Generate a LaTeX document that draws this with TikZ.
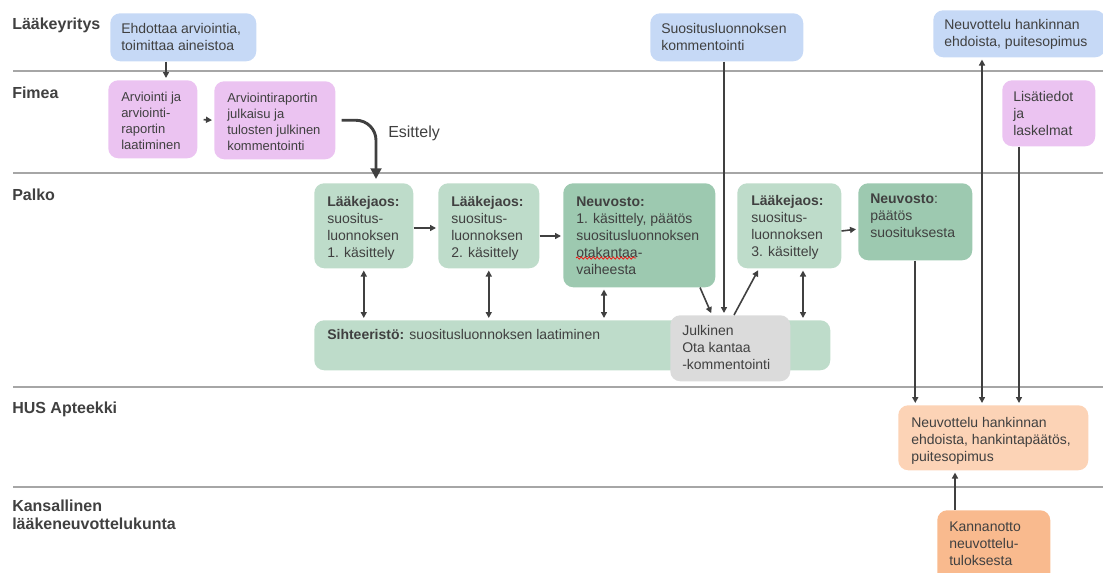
\documentclass[tikz,border=0pt]{standalone}
\usepackage{fontspec}
\setmainfont{Liberation Sans}
\usetikzlibrary{arrows.meta,decorations.pathmorphing}
\definecolor{ink}{HTML}{404040}
\definecolor{laneline}{HTML}{A6A6A6}
\definecolor{sininen}{HTML}{C6D9F6}
\definecolor{pinkki}{HTML}{EBC3F1}
\definecolor{vihrea}{HTML}{BEDCCA}
\definecolor{tummavihrea}{HTML}{9DC9B0}
\definecolor{harmaa}{HTML}{DBDBDB}
\definecolor{persikka}{HTML}{FCD3B6}
\definecolor{oranssi}{HTML}{F9BA8E}
\begin{document}
\begin{tikzpicture}[x=0.75pt,y=-0.75pt,
	every node/.style={text=ink},
	box/.style={rounded corners=7.5pt,inner sep=0pt,anchor=north west},
	lbl/.style={anchor=north west,align=left,inner sep=0pt,font=\fontsize{10.5}{12.75}\selectfont},
	small/.style={lbl,font=\fontsize{9.75}{12}\selectfont},
	lane/.style={anchor=north west,align=left,inner sep=0pt,font=\fontsize{12}{13.5}\selectfont\bfseries},
	arr/.style={draw=ink,line width=1.2pt,shorten >=1.5pt,-{Triangle[length=4.5pt,width=4.5pt]}},
	darr/.style={arr,shorten <=1.5pt,{Triangle[length=4.5pt,width=4.5pt]}-{Triangle[length=4.5pt,width=4.5pt]}},
	bigarr/.style={draw=ink,line width=2.2pt,-{Triangle[length=8pt,width=8pt]}}]
	\useasboundingbox (0,0) rectangle (1103,572);
	% kaistat
	\foreach \y in {71,173,387,487} \draw[laneline,line width=0.8pt] (13,\y)--(1103,\y);
	\node[lane] (l1) at (12,18) {Lääkeyritys};
	\node[lane] (l2) at (12,87) {Fimea};
	\node[lane] (l3) at (12,189) {Palko};
	\node[lane] (l4) at (12,402) {HUS Apteekki};
	\node[lane] (l5) at (12,500) {Kansallinen\\lääkeneuvottelukunta};
	% laatikot
	\node[box,fill=sininen,minimum width=109.5pt,minimum height=36pt] (ehdotus) at (110,13) {};
	\node[lbl] (ehdotus-t) at ([shift={(11,10)}]ehdotus.north west) {Ehdottaa arviointia,\\toimittaa aineistoa};
	\node[box,fill=pinkki,minimum width=66.75pt,minimum height=58.5pt] (arviointi) at (108,80) {};
	\node[small] (arviointi-t) at ([shift={(13,12)}]arviointi.north west) {Arviointi ja\\arviointi-\\raportin\\laatiminen};
	\node[box,fill=pinkki,minimum width=90.75pt,minimum height=58.5pt] (julkaisu) at (214,81) {};
	\node[small] (julkaisu-t) at ([shift={(13,12)}]julkaisu.north west) {Arviointiraportin\\julkaisu ja\\tulosten julkinen\\kommentointi};
	\node[box,fill=sininen,minimum width=114.75pt,minimum height=36pt] (kommentointi) at (650,13) {};
	\node[lbl] (kommentointi-t) at ([shift={(11,10)}]kommentointi.north west) {Suositusluonnoksen\\kommentointi};
	\node[box,fill=sininen,minimum width=129pt,minimum height=35.25pt] (neuvottelu) at (933,10) {};
	\node[lbl] (neuvottelu-t) at ([shift={(11,9)}]neuvottelu.north west) {Neuvottelu hankinnan\\ehdoista, puitesopimus};
	\node[box,fill=pinkki,minimum width=69.75pt,minimum height=49.5pt] (lisatiedot) at (1002,80) {};
	\node[lbl] (lisatiedot-t) at ([shift={(11,11)}]lisatiedot.north west) {Lisätiedot\\ja\\laskelmat};
	\node[box,fill=vihrea,minimum width=74.25pt,minimum height=63.75pt] (jaos1) at (314,183) {};
	\node[lbl] (jaos1-t) at ([shift={(13,13)}]jaos1.north west) {\textbf{Lääkejaos:}\\suositus-\\luonnoksen\\1. käsittely};
	\node[box,fill=vihrea,minimum width=75.75pt,minimum height=63.75pt] (jaos2) at (438,183) {};
	\node[lbl] (jaos2-t) at ([shift={(13,13)}]jaos2.north west) {\textbf{Lääkejaos:}\\suositus-\\luonnoksen\\2. käsittely};
	\node[box,fill=tummavihrea,minimum width=114pt,minimum height=78pt] (neuvosto1) at (563,183) {};
	\node[lbl] (neuvosto1-t) at ([shift={(13,14)}]neuvosto1.north west) {\textbf{Neuvosto:}\\1. käsittely, päätös\\suositusluonnoksen\\otakantaa-\\vaiheesta};
	\draw[red,line width=0.5pt,decorate,decoration={snake,amplitude=0.8pt,segment length=3pt}] (576,258)--(636,258);
	\node[box,fill=vihrea,minimum width=78pt,minimum height=63.75pt] (jaos3) at (737,183) {};
	\node[lbl] (jaos3-t) at ([shift={(14,12)}]jaos3.north west) {\textbf{Lääkejaos:}\\suositus-\\luonnoksen\\3. käsittely};
	\node[box,fill=tummavihrea,minimum width=85.5pt,minimum height=57.75pt] (neuvosto2) at (858,183) {};
	\node[lbl] (neuvosto2-t) at ([shift={(12,11)}]neuvosto2.north west) {\textbf{Neuvosto}:\\päätös\\suosituksesta};
	\node[box,fill=vihrea,minimum width=387pt,minimum height=37.5pt] (sihteeristo) at (314,320) {};
	\node[lbl] (sihteeristo-t) at ([shift={(13,9)}]sihteeristo.north west) {\textbf{Sihteeristö:} suositusluonnoksen laatiminen};
	\node[box,fill=harmaa,minimum width=90pt,minimum height=49.5pt] (otakantaa) at (670,315) {};
	\node[lbl] (otakantaa-t) at ([shift={(12,10)}]otakantaa.north west) {Julkinen\\Ota kantaa\\-kommentointi};
	\node[box,fill=persikka,minimum width=142.5pt,minimum height=48.75pt] (hus) at (898,405) {};
	\node[lbl] (hus-t) at ([shift={(13,12)}]hus.north west) {Neuvottelu hankinnan\\ehdoista, hankintapäätös,\\puitesopimus};
	\node[box,fill=oranssi,minimum width=84.75pt,minimum height=60pt] (kannanotto) at (937,510) {};
	\node[lbl] (kannanotto-t) at ([shift={(12,12)}]kannanotto.north west) {Kannanotto\\neuvottelu-\\tuloksesta};
	% nuolet
	\draw[arr] (166,0 |- ehdotus.south)--(166,0 |- arviointi.north);
	\draw[arr,shorten <=4.5pt] (arviointi.east)--(julkaisu.west);
	\draw[bigarr,rounded corners=15pt,shorten >=3pt] ([shift={(6,0)}]julkaisu.east) -| (376,0 |- jaos1.north);
	\node[anchor=west,inner sep=0pt,font=\fontsize{12}{14}\selectfont] (esittely) at (388,133) {Esittely};
	\draw[arr] (jaos1.east |- 0,228)--(jaos2.west |- 0,228);
	\draw[arr] (jaos2.east |- 0,236)--(neuvosto1.west |- 0,236);
	\draw[arr] (700,0 |- neuvosto1.south)--(712,0 |- otakantaa.north);
	\draw[arr] (724,0 |- kommentointi.south)--(724,0 |- otakantaa.north);
	\draw[arr] (734,0 |- otakantaa.north)--(759,0 |- jaos3.south);
	\draw[arr] (jaos3.east |- 0,231)--(neuvosto2.west |- 0,229);
	\draw[darr] (jaos1.south)--(jaos1.south |- sihteeristo.north);
	\draw[darr] (jaos2.south)--(jaos2.south |- sihteeristo.north);
	\draw[darr] (604,0 |- neuvosto1.south)--(604,0 |- sihteeristo.north);
	\draw[darr] (803,0 |- jaos3.south)--(803,0 |- sihteeristo.north);
	\draw[arr] (neuvosto2.south)--(neuvosto2.south |- hus.north);
	\draw[darr] (982,0 |- neuvottelu.south)--(982,0 |- hus.north);
	\draw[arr] (1019,0 |- lisatiedot.south)--(1019,0 |- hus.north);
	\draw[arr] (955,0 |- kannanotto.north)--(955,0 |- hus.south);
\end{tikzpicture}
\end{document}
